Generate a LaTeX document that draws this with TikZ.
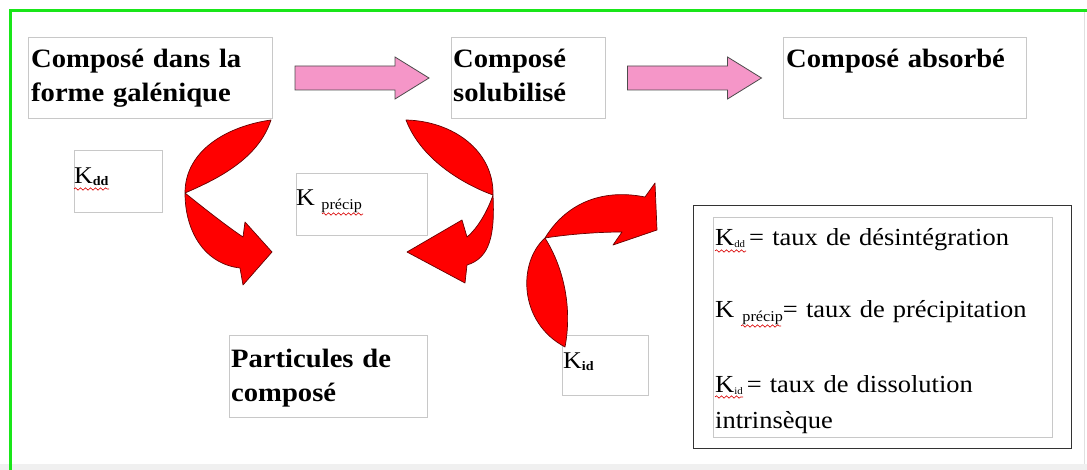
\documentclass[tikz,border=0pt]{standalone}
\usepackage{fontspec}
\setmainfont{Liberation Serif}[FakeStretch=1.08]
\usetikzlibrary{calc,decorations.pathmorphing}

\definecolor{framegreen}{RGB}{25,230,25}
\definecolor{boxgray}{RGB}{200,200,200}
\definecolor{arrowpink}{RGB}{245,150,200}

\newcommand\subtxt[3]{\raisebox{-#1}{\fontsize{#2}{#2}\selectfont #3}}

\tikzset{
  box/.style={draw=boxgray, line width=1pt, inner sep=0pt, anchor=north west},
  heading/.style={font=\fontsize{26.5}{34}\selectfont\bfseries, inner sep=0pt,
    anchor=base west, text width=#1, align=left},
  klabel/.style={font=\fontsize{24}{24}\selectfont, inner sep=0pt, anchor=base west},
  legendtext/.style={font=\fontsize{24.5}{36}\selectfont, inner sep=0pt,
    anchor=base west, text width=336, align=left},
  blockarrow/.style={fill=arrowpink, draw=black!70, line width=0.8pt},
  curved/.style={fill=red, draw=black!60!red, line width=0.7pt, line join=round},
  spellwave/.style={red!85!black, line width=0.6pt,
    decorate, decoration={snake, segment length=5pt, amplitude=1.2pt}},
}

\begin{document}
\begin{tikzpicture}[x=1pt, y=-1pt]
  \useasboundingbox (0,0) rectangle (1087,470);
  % frame
  \fill[black!6] (0,464) rectangle (1087,470);
  \draw[black!12, line width=1pt] (1084,11) -- (1084,464);
  \draw[framegreen, line width=3pt] (10,470) -- (10,11) -- (1087,11);

  % boxes
  \node[box, minimum width=244, minimum height=81] (galen)    at (28,37)   {};
  \node[box, minimum width=154, minimum height=81] (solub)    at (451,37)  {};
  \node[box, minimum width=243, minimum height=81] (absorb)   at (783,37)  {};
  \node[box, minimum width=198, minimum height=82] (particle) at (229,335) {};
  \node[box, minimum width=88,  minimum height=62] (kdd)      at (74,150)  {};
  \node[box, minimum width=131, minimum height=62] (kprecip)  at (296,173) {};
  \node[box, minimum width=86,  minimum height=60] (kid)      at (562,335) {};
  \node[box, draw=black!80, line width=1.3pt, minimum width=378, minimum height=243] (legend) at (693,205) {};
  \node[box, minimum width=339, minimum height=220] (legendin) at (713,217) {};

  % texts
  \node[heading=240] (galentext)    at (31,68)   {Composé dans la\\forme galénique};
  \node[heading=150] (solubtext)    at (453,68)  {Composé\\solubilisé};
  \node[heading=240] (absorbtext)   at (786,68)  {Composé absorbé};
  \node[heading=195] (particletext) at (231,367) {Particules de\\composé};

  \node[klabel] (kddtext)     at (74,184)  {K\subtxt{2pt}{13}{\bfseries dd}};
  \node[klabel] (kprecipteXt) at (296,206) {K \subtxt{4pt}{15}{précip}};
  \node[klabel] (kidtext)     at (563,368) {K\subtxt{2pt}{13}{\bfseries id}};

  \node[legendtext] (legdd)     at (715,246) {K\subtxt{2pt}{10}{dd}\,= taux de désintégration};
  \node[legendtext] (legprecip) at (715,318) {K \subtxt{4pt}{15}{précip}= taux de précipitation};
  \node[legendtext] (legid)     at (715,392) {K\subtxt{2pt}{10}{id}\,= taux de dissolution\\intrinsèque};

  % spell-check waves
  \draw[spellwave] ([yshift=-5pt]kddtext.base west) -- ++(35,0);
  \draw[spellwave] ([xshift=26pt, yshift=-8pt]kprecipteXt.base west) -- ++(41,0);
  \draw[spellwave] ([yshift=-5pt]legdd.base west) -- ++(31,0);
  \draw[spellwave] ([xshift=26pt, yshift=-8pt]legprecip.base west) -- ++(40,0);
  \draw[spellwave] ([yshift=-5pt]legid.base west) -- ++(28,0);

  % pink arrows
  \draw[blockarrow] ($(galen.east)!.5!(solub.west)$) ++(-67,-12) -- ++(100,0) -- ++(0,-9)
    -- ++(34,21) -- ++(-34,21) -- ++(0,-9) -- ++(-100,0) -- cycle;
  \draw[blockarrow] ($(solub.east)!.5!(absorb.west)$) ++(-67,-12) -- ++(100,0) -- ++(0,-9)
    -- ++(34,21) -- ++(-34,21) -- ++(0,-9) -- ++(-100,0) -- cycle;

  % red curved arrows
  \draw[curved] (271,120) .. controls (228,126) and (185,150) .. (185,193)
    .. controls (185,232) and (205,264) .. (240,268)
    -- (243,285) -- (272,252) -- (245,222) -- (243,237)
    .. controls (225,225) and (200,205) .. (185,193)
    .. controls (215,180) and (258,160) .. (271,120) -- cycle;
  \draw[curved] (406,120) .. controls (452,121) and (494,150) .. (493,195)
    .. controls (495,235) and (490,258) .. (467,265)
    -- (465,283) -- (407,252) -- (462,220) -- (467,237)
    .. controls (478,228) and (488,210) .. (493,195)
    .. controls (468,186) and (422,162) .. (406,120) -- cycle;
  \draw[curved] (545,238) .. controls (565,205) and (600,188) .. (645,197)
    -- (655,183) -- (657,230) -- (613,245) -- (622,232)
    .. controls (600,232) and (570,234) .. (545,238)
    .. controls (518,262) and (518,322) .. (565,347)
    .. controls (572,310) and (565,270) .. (545,238) -- cycle;
\end{tikzpicture}
\end{document}
